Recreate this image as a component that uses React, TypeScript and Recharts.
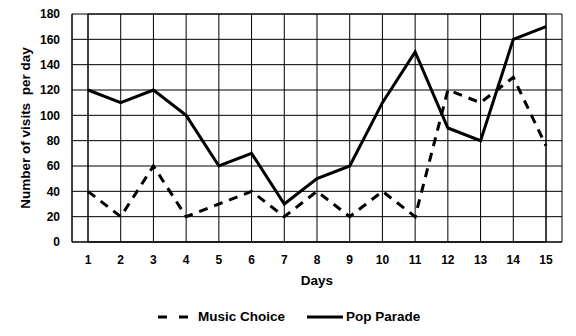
import React from "react";
import {
  LineChart,
  Line,
  XAxis,
  YAxis,
  CartesianGrid,
  ReferenceArea,
} from "recharts";

const days = ["1", "2", "3", "4", "5", "6", "7", "8", "9", "10", "11", "12", "13", "14", "15"];
const musicChoice = [40, 20, 60, 20, 30, 40, 20, 40, 20, 40, 20, 120, 110, 130, 76];
const popParade = [120, 110, 120, 100, 60, 70, 30, 50, 60, 110, 150, 90, 80, 160, 170];
const yTicks = [0, 20, 40, 60, 80, 100, 120, 140, 160, 180];

const data = days.map((day, i) => ({
  day,
  music: musicChoice[i],
  pop: popParade[i],
}));

const font = "'Liberation Sans', Arial, sans-serif";
const tickStyle = { fill: "#000", fontSize: 12, fontWeight: 700, fontFamily: font };
const legendText = { position: "absolute" as const, top: 308, fontSize: 13.5, lineHeight: "18px" };

export default function App() {
  return (
    <div style={{ position: "absolute", left: 0, top: 0, width: 576, height: 336, background: "#fff" }}>
      <LineChart
        width={576}
        height={336}
        data={data}
        margin={{ top: 14, right: 14, left: 28, bottom: 44 }}
      >
        <CartesianGrid stroke="#000" strokeWidth={1} />
        <ReferenceArea y1={0} y2={180} fill="none" stroke="#000" strokeWidth={1} />
        <XAxis
          dataKey="day"
          padding={{ left: 16, right: 16 }}
          tickLine={false}
          axisLine={{ stroke: "#000" }}
          tick={tickStyle}
          tickMargin={7}
          height={50}
          interval={0}
          label={{
            value: "Days",
            position: "insideBottom",
            offset: 7,
            style: { fill: "#000", fontSize: 13.5, fontWeight: 700, fontFamily: font },
          }}
        />
        <YAxis
          domain={[0, 180]}
          ticks={yTicks}
          tickLine={false}
          axisLine={{ stroke: "#000" }}
          tick={tickStyle}
          tickMargin={6}
          width={44}
          label={{
            value: "Number of visits\u00a0\u00a0per day",
            angle: -90,
            position: "insideLeft",
            offset: -3,
            style: { fill: "#000", fontSize: 13.5, fontWeight: 700, fontFamily: font, textAnchor: "middle" },
          }}
        />
        <Line
          dataKey="music"
          stroke="#000"
          strokeWidth={3}
          strokeDasharray="9 7"
          dot={false}
          isAnimationActive={false}
        />
        <Line
          dataKey="pop"
          stroke="#000"
          strokeWidth={3}
          dot={false}
          isAnimationActive={false}
        />
      </LineChart>
      <div style={{ fontFamily: font, fontWeight: 700, color: "#000" }}>
        <svg width={32} height={6} style={{ position: "absolute", left: 158, top: 314 }}>
          <line x1={0} y1={3} x2={32} y2={3} stroke="#000" strokeWidth={3} strokeDasharray="9 12" />
        </svg>
        <span style={{ ...legendText, left: 198 }}>Music Choice</span>
        <svg width={36} height={6} style={{ position: "absolute", left: 307, top: 314 }}>
          <line x1={0} y1={3} x2={36} y2={3} stroke="#000" strokeWidth={3} />
        </svg>
        <span style={{ ...legendText, left: 346 }}>Pop Parade</span>
      </div>
    </div>
  );
}
